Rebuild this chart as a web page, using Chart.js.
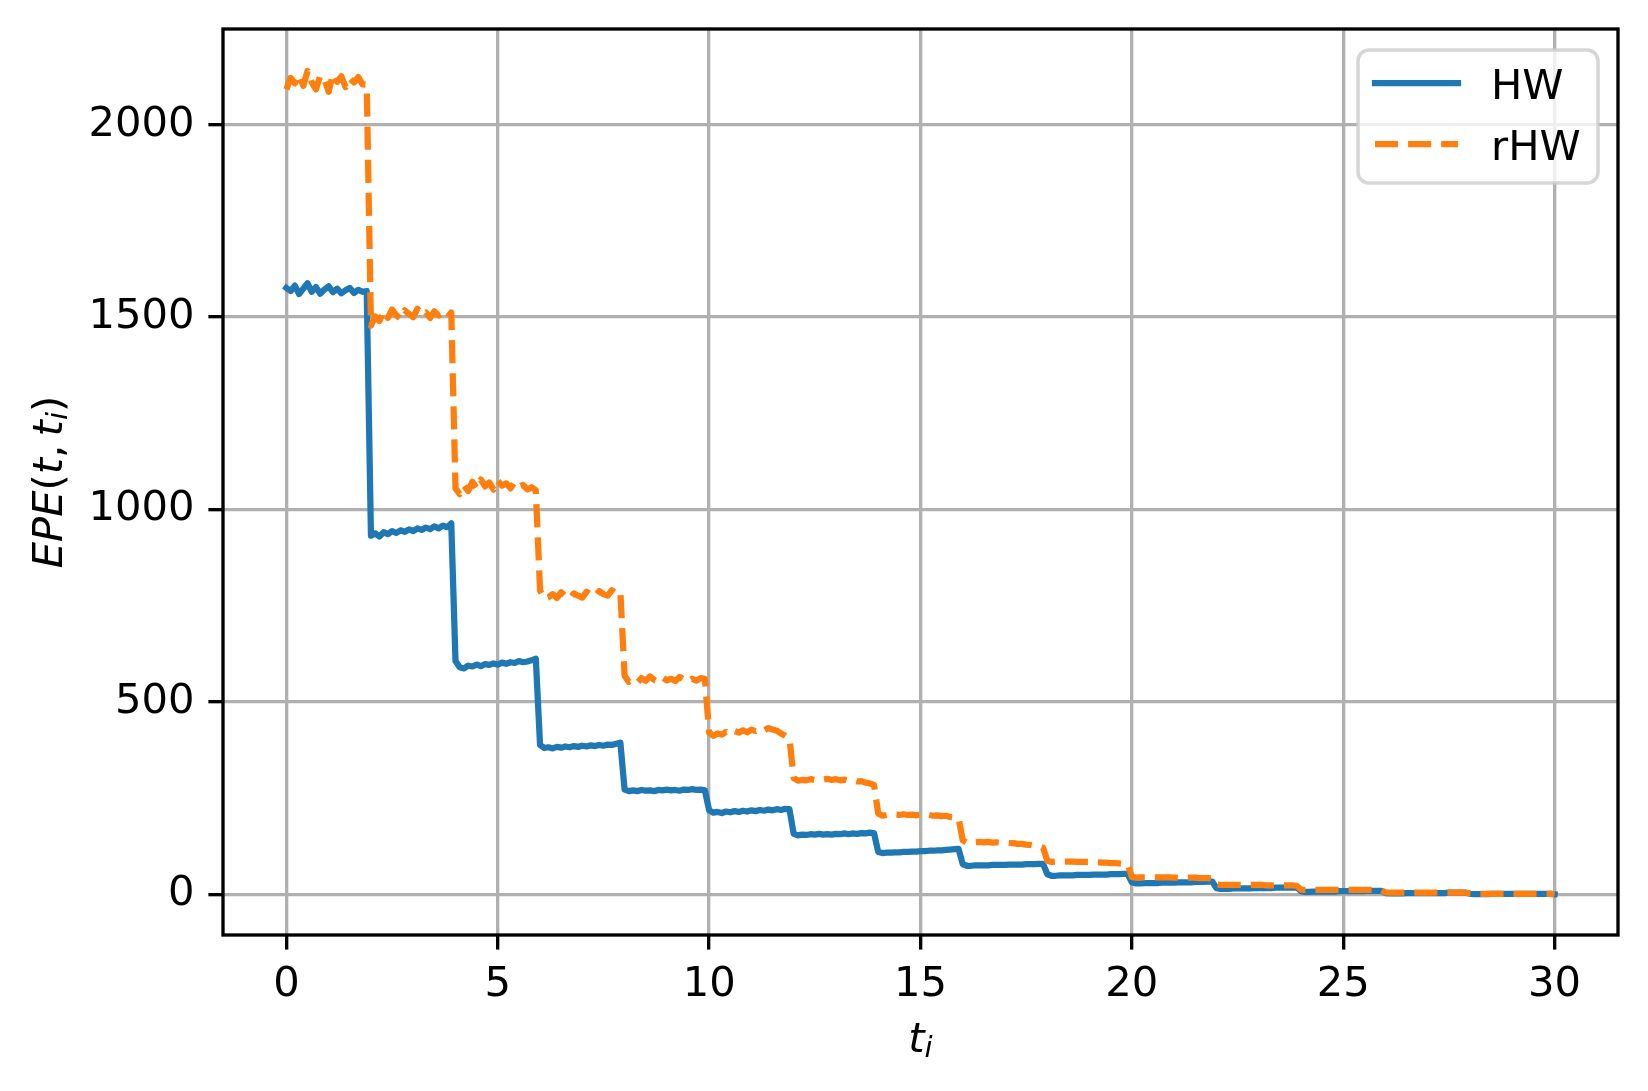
<!DOCTYPE html>
<html>
<head>
<meta charset="utf-8">
<script src="https://cdn.jsdelivr.net/npm/chart.js@4.4.1/dist/chart.umd.min.js"></script>
<style>
  html, body { margin: 0; padding: 0; background: #fff; }
  canvas { display: block; }
</style>
</head>
<body>
<canvas id="epeChart" width="1648" height="1091"></canvas>
<script>
// EPE profiles sampled every 0.1 years from t = 0 to t = 30 (one row per 2-year period)
const timeStep = 0.1;

const hwEPE = [
  1576, 1568, 1582, 1560, 1574, 1588, 1566, 1578, 1561, 1572, 1580, 1565, 1574, 1562, 1570, 1576, 1563, 1571, 1566, 1568,
  932, 938, 930, 941, 936, 944, 939, 946, 942, 948, 944, 951, 947, 953, 949, 956, 951, 958, 954, 964,
  606, 590, 587, 594, 592, 597, 593, 598, 596, 600, 597, 602, 599, 603, 601, 606, 603, 605, 608, 612,
  388, 380, 382, 379, 383, 381, 384, 382, 385, 383, 386, 384, 387, 385, 388, 386, 389, 388, 391, 394,
  272, 268, 270, 268, 271, 269, 270, 268, 271, 270, 272, 270, 271, 269, 272, 271, 273, 271, 272, 270,
  218, 212, 214, 211, 215, 213, 216, 214, 217, 215, 218, 216, 219, 217, 220, 218, 221, 219, 222, 221,
  157, 153, 155, 154, 156, 155, 157, 155, 156, 155, 157, 156, 158, 156, 158, 157, 159, 158, 160, 159,
  110, 107, 108, 108, 109, 109, 110, 110, 111, 111, 112, 112, 113, 113, 114, 114, 115, 116, 117, 118,
  78, 74, 74, 75, 75, 75, 75, 76, 76, 76, 76, 77, 77, 77, 77, 78, 78, 78, 79, 79,
  52, 48, 48, 49, 49, 49, 49, 50, 50, 50, 50, 51, 51, 51, 51, 52, 52, 52, 53, 53,
  31, 28, 28, 29, 29, 29, 29, 30, 30, 30, 30, 31, 31, 31, 31, 32, 32, 32, 33, 33,
  16, 14, 14, 14, 15, 15, 15, 15, 15, 16, 16, 16, 16, 16, 17, 17, 17, 17, 17, 18,
  8, 6, 6, 7, 7, 7, 7, 7, 7, 8, 8, 8, 8, 8, 8, 8, 9, 9, 9, 9,
  3, 2, 2, 2, 2, 3, 3, 3, 3, 3, 3, 3, 3, 3, 3, 4, 4, 4, 4, 4,
  1, 0, 0, 0, 0, 1, 1, 1, 1, 1, 1, 1, 1, 1, 1, 1, 1, 1, 1, 1,
  0
];

const rhwEPE = [
  2092, 2122, 2108, 2130, 2101, 2140, 2110, 2092, 2128, 2118, 2086, 2132, 2112, 2126, 2098, 2120, 2110, 2124, 2105, 2104,
  1478, 1502, 1490, 1515, 1498, 1520, 1505, 1496, 1518, 1508, 1500, 1522, 1506, 1512, 1498, 1515, 1504, 1510, 1498, 1512,
  1055, 1040, 1062, 1048, 1072, 1055, 1078, 1060, 1070, 1052, 1075, 1062, 1068, 1055, 1072, 1060, 1064, 1052, 1058, 1050,
  790, 768, 772, 780, 770, 785, 775, 768, 782, 776, 771, 786, 778, 774, 788, 780, 776, 790, 782, 786,
  568, 552, 558, 550, 562, 555, 566, 557, 552, 563, 556, 560, 554, 565, 558, 552, 560, 555, 562, 560,
  420, 412, 418, 415, 422, 416, 424, 420, 426, 421, 428, 424, 430, 426, 432, 428, 425, 418, 412, 405,
  302, 295, 297, 296, 299, 297, 300, 298, 300, 297, 299, 296, 298, 295, 296, 293, 294, 290, 288, 284,
  210, 204, 206, 205, 207, 206, 208, 206, 207, 205, 207, 205, 206, 204, 205, 203, 204, 201, 200, 198,
  140, 134, 136, 135, 136, 135, 136, 134, 135, 134, 134, 133, 133, 131, 131, 129, 128, 126, 124, 121,
  87, 84, 85, 85, 85, 85, 85, 84, 84, 84, 84, 83, 83, 82, 82, 81, 81, 80, 79, 78,
  45, 43, 44, 44, 44, 44, 44, 44, 44, 44, 43, 43, 43, 43, 43, 43, 42, 42, 42, 41,
  25, 24, 24, 24, 24, 24, 24, 24, 24, 24, 24, 24, 23, 23, 23, 23, 23, 23, 23, 22,
  12, 11, 11, 11, 11, 11, 11, 11, 11, 11, 11, 11, 11, 11, 11, 11, 11, 11, 10, 10,
  5, 4, 4, 4, 4, 4, 4, 4, 4, 4, 4, 4, 4, 4, 4, 4, 4, 4, 4, 4,
  2, 1, 1, 1, 1, 1, 1, 1, 1, 1, 1, 1, 1, 1, 1, 1, 1, 1, 1, 1,
  0
];

const seriesNames = ['HW', 'rHW'];
const seriesColors = ['#1f77b4', '#ff7f0e'];
const xTicks = [0, 5, 10, 15, 20, 25, 30];
const yTicks = [0, 500, 1000, 1500, 2000];

const timeGrid = hwEPE.map((_, i) => Math.round(i * timeStep * 10) / 10);

const FONT = 'DejaVu Sans';
const FS = 41.67;     // 10pt at 300 dpi
const LW = 6.25;      // 1.5pt line
const THIN = 3.33;    // 0.8pt

// draw "math" labels built from pieces (italic / subscript)
function drawMath(ctx, parts) {
   let total = 0;
   const items = parts.map(p => {
      const size = p.sub ? FS * 0.7 : FS;
      const font = (p.it ? 'italic ' : '') + size + 'px "' + FONT + '"';
      ctx.font = font;
      const w = ctx.measureText(p.s).width;
      const gap = (p.gap || 0) * FS;
      total += w + gap;
      return { p, font, w, gap };
   });
   let x = -total / 2;
   items.forEach(({ p, font, w, gap }) => {
      ctx.font = font;
      ctx.fillText(p.s, x, p.sub ? FS * 0.12 : 0);
      x += w + gap;
   });
}

const decorPlugin = {
   id: 'decor',
   afterDraw(chart) {
      const ctx = chart.ctx;
      const area = chart.chartArea;

      // frame (all four spines)
      ctx.save();
      ctx.strokeStyle = '#000';
      ctx.lineWidth = THIN;
      ctx.lineJoin = 'miter';
      ctx.strokeRect(area.left, area.top, area.right - area.left, area.bottom - area.top);
      ctx.restore();

      // axis titles
      ctx.save();
      ctx.fillStyle = '#000';
      ctx.textAlign = 'left';
      ctx.textBaseline = 'alphabetic';
      ctx.translate((area.left + area.right) / 2, 1052);
      drawMath(ctx, [{ s: 't', it: true }, { s: 'i', it: true, sub: true }]);
      ctx.restore();

      ctx.save();
      ctx.fillStyle = '#000';
      ctx.textAlign = 'left';
      ctx.textBaseline = 'alphabetic';
      ctx.translate(62, (area.top + area.bottom) / 2);
      ctx.rotate(-Math.PI / 2);
      drawMath(ctx, [
         { s: 'EPE', it: true }, { s: '(' }, { s: 't', it: true }, { s: ',', gap: 0.2 },
         { s: 't', it: true }, { s: 'i', it: true, sub: true }, { s: ')' }
      ]);
      ctx.restore();

      // legend box, upper right
      const box = { x: 1358, y: 50, w: 240, h: 133, r: 11 };
      ctx.save();
      ctx.beginPath();
      ctx.roundRect(box.x, box.y, box.w, box.h, box.r);
      ctx.fillStyle = 'rgba(255,255,255,0.8)';
      ctx.fill();
      ctx.strokeStyle = 'rgba(204,204,204,0.8)';
      ctx.lineWidth = 3.5;
      ctx.stroke();

      const rows = [83, 144];
      const baselines = [99, 160];
      chart.data.datasets.forEach((ds, i) => {
         const y = rows[i];
         ctx.beginPath();
         ctx.strokeStyle = ds.borderColor;
         ctx.lineWidth = LW;
         if (ds.borderDash && ds.borderDash.length) {
            ctx.setLineDash(ds.borderDash);
            ctx.lineCap = 'butt';
         } else {
            ctx.setLineDash([]);
            ctx.lineCap = 'square';
         }
         ctx.moveTo(1375, y);
         ctx.lineTo(1458, y);
         ctx.stroke();
         ctx.setLineDash([]);
         ctx.fillStyle = '#000';
         ctx.font = FS + 'px "' + FONT + '"';
         ctx.textAlign = 'left';
         ctx.textBaseline = 'alphabetic';
         ctx.fillText(ds.label, 1491, baselines[i]);
      });
      ctx.restore();
   }
};

const ctx = document.getElementById('epeChart').getContext('2d');

new Chart(ctx, {
   type: 'line',
   data: {
      labels: timeGrid,
      datasets: [
         {
            label: seriesNames[0],
            data: hwEPE,
            borderColor: seriesColors[0],
            borderWidth: LW,
            borderJoinStyle: 'round',
            borderCapStyle: 'square',
            pointRadius: 0,
            tension: 0,
            fill: false,
            order: 1
         },
         {
            label: seriesNames[1],
            data: rhwEPE,
            borderColor: seriesColors[1],
            borderWidth: LW,
            borderDash: [23.1, 10],
            borderJoinStyle: 'round',
            borderCapStyle: 'butt',
            pointRadius: 0,
            tension: 0,
            fill: false,
            order: 0
         }
      ]
   },
   options: {
      responsive: false,
      animation: false,
      devicePixelRatio: 1,
      layout: { padding: { top: 29, right: 30, left: 0, bottom: 0 } },
      plugins: {
         legend: { display: false },
         tooltip: { enabled: false }
      },
      scales: {
         x: {
            type: 'linear',
            min: -1.5,
            max: 31.5,
            afterBuildTicks: s => { s.ticks = xTicks.map(v => ({ value: v })); },
            afterFit: s => {
               s.height = 156;
               s.paddingLeft = 0;
               s.paddingRight = 0;
            },
            grid: {
               color: '#b0b0b0',
               lineWidth: THIN,
               drawTicks: true,
               tickLength: 14.6,
               tickColor: '#000',
               tickWidth: THIN
            },
            border: { display: false },
            ticks: {
               autoSkip: false,
               maxRotation: 0,
               padding: 11,
               color: '#000',
               font: { family: FONT, size: FS },
               callback: value => String(value)
            }
         },
         y: {
            type: 'linear',
            min: -106,
            max: 2249,
            afterBuildTicks: s => { s.ticks = yTicks.map(v => ({ value: v })); },
            afterFit: s => {
               s.width = 223;
               s.paddingTop = 0;
               s.paddingBottom = 0;
            },
            grid: {
               color: '#b0b0b0',
               lineWidth: THIN,
               drawTicks: true,
               tickLength: 14.6,
               tickColor: '#000',
               tickWidth: THIN
            },
            border: { display: false },
            ticks: {
               padding: 14,
               color: '#000',
               font: { family: FONT, size: FS },
               callback: value => String(value)
            }
         }
      }
   },
   plugins: [decorPlugin]
});
</script>
</body>
</html>
